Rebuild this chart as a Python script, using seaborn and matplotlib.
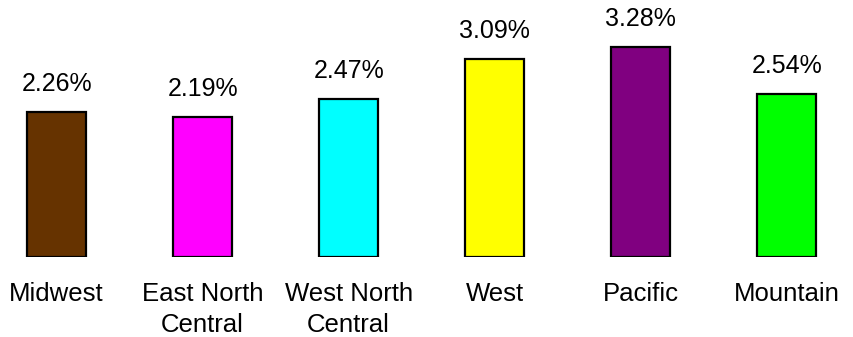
import matplotlib
matplotlib.use("Agg")
import matplotlib.pyplot as plt
import seaborn as sns
import pandas as pd

categories = ["Midwest", "East North Central", "West North Central", "West", "Pacific", "Mountain"]
tick_labels = ["Midwest", "East North\nCentral", "West North\nCentral", "West", "Pacific", "Mountain"]
values = [2.26, 2.19, 2.47, 3.09, 3.28, 2.54]
colors = ["#663300", "#FF00FF", "#00FFFF", "#FFFF00", "#800080", "#00FF00"]

sns.set_style("white")
plt.rcParams['font.family'] = ['Liberation Sans', 'DejaVu Sans']

df = pd.DataFrame({"region": categories, "value": values})

fig = plt.figure(figsize=(8.54, 3.37), dpi=100)
ax = fig.add_axes([0, 0.2383, 1, 0.7617])
sns.barplot(data=df, x="region", y="value", hue="region", palette=colors,
            order=categories, hue_order=categories, legend=False,
            width=0.4, edgecolor="black", linewidth=1.6, saturation=1, ax=ax)

for cont in ax.containers:
    ax.bar_label(cont, labels=[f"{v:.2f}%" for v in cont.datavalues],
                 padding=11.5, fontsize=18, color="black")

ax.set_xlim(-0.388, 5.461)
ax.set_ylim(0, 4.01)
ax.set_xticks(range(len(categories)))
ax.set_xticklabels(tick_labels, fontsize=18.5, linespacing=1.4, color="black")
ax.tick_params(axis="x", length=0, pad=18)
ax.set_yticks([])
ax.set_xlabel("")
ax.set_ylabel("")
for s in ax.spines.values():
    s.set_visible(False)

fig.savefig("out.png", dpi=100)
